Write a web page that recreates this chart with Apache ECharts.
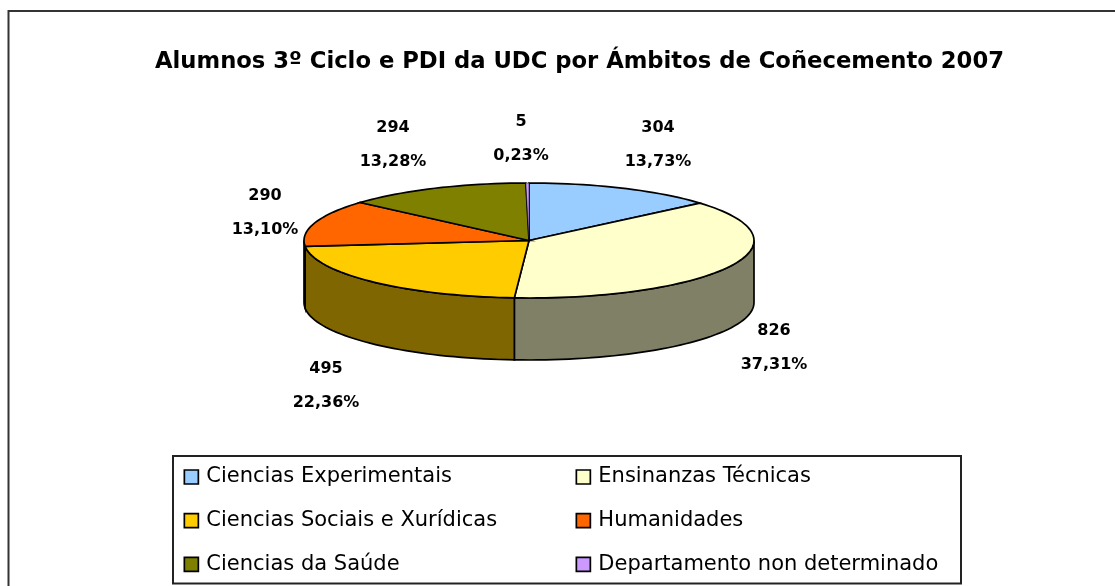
<!DOCTYPE html>
<html><head><meta charset="utf-8">
<style>html,body{margin:0;padding:0;background:#fff}#c{width:1115px;height:586px}</style>
<script src="https://cdn.jsdelivr.net/npm/echarts@6/dist/echarts.min.js"></script>
</head><body><div id="c"></div>
<script>
const categories = ['Ciencias Experimentais','Ensinanzas Técnicas','Ciencias Sociais e Xurídicas','Humanidades','Ciencias da Saúde','Departamento non determinado'];
const values = [304,826,495,290,294,5];
const colors = ['#99CCFF','#FFFFCC','#FFCC00','#FF6600','#808000','#CC99FF'];
const wallColors = ['#4C667F','#808066','#7F6600','#803300','#404000','#664C7F'];
const labelCenters = [[658,128],[774,331],[326,369],[265,196],[393,128],[521,122]];
const titleText = 'Alumnos 3º Ciclo e PDI da UDC por Ámbitos de Coñecemento 2007';

const PIE = {cx:529, cy:240.5, rx:225, ry:57.5, depth:62};
const total = values.reduce((a,b)=>a+b,0);
const pt = (deg,dy=0)=>{const r=deg*Math.PI/180;return [PIE.cx+PIE.rx*Math.sin(r),PIE.cy-PIE.ry*Math.cos(r)+dy];};
function arc(a0,a1,dy=0){const n=Math.max(2,Math.ceil((a1-a0)/2));const out=[];for(let i=0;i<=n;i++)out.push(pt(a0+(a1-a0)*i/n,dy));return out;}
const fmtPct=v=>(v/total*100).toFixed(2).replace('.',',')+'%';
const LINE={stroke:'#000',lineWidth:1.7,lineJoin:'miter'};

function sliceSeries(i){
  const start=values.slice(0,i).reduce((a,b)=>a+b,0)/total*360;
  const end=start+values[i]/total*360;
  const narrow=(end-start)<2;
  return {
    type:'custom',name:categories[i],coordinateSystem:'none',silent:true,
    itemStyle:{color:colors[i]},data:[[values[i]]],z:2,
    renderItem(){
      const children=[];
      const w0=Math.max(start,90),w1=Math.min(end,270);
      if(w1>w0){
        const front=arc(w0,w1),back=arc(w0,w1,PIE.depth).reverse();
        children.push({type:'polygon',shape:{points:front.concat(back)},style:{fill:wallColors[i],...LINE}});
      }
      const top=[[PIE.cx,PIE.cy]].concat(arc(start,end));
      children.push({type:'polygon',shape:{points:top},style:{fill:colors[i],...LINE,lineWidth:narrow?0.5:LINE.lineWidth}});
      const [lx,ly]=labelCenters[i];
      children.push({type:'text',x:lx,y:ly,style:{text:String(values[i]),font:'bold 16px "DejaVu Sans"',fill:'#000',align:'center',verticalAlign:'middle'}});
      children.push({type:'text',x:lx,y:ly+34,style:{text:fmtPct(values[i]),font:'bold 16px "DejaVu Sans"',fill:'#000',align:'center',verticalAlign:'middle'}});
      return {type:'group',children};
    }
  };
}
const legendBase={orient:'vertical',icon:'rect',itemWidth:14,itemHeight:14,itemGap:22.7,selectedMode:false,padding:0,
  textStyle:{fontFamily:'DejaVu Sans',fontSize:21,lineHeight:20,color:'#000',padding:[0,0,0,3]},
  itemStyle:{borderColor:'#000',borderWidth:1.7}};
const chart=echarts.init(document.getElementById('c'),null,{renderer:'canvas'});
chart.setOption({
  animation:false,backgroundColor:'#fff',
  title:{text:titleText,left:155,top:51,padding:0,textStyle:{fontFamily:'DejaVu Sans',fontWeight:'bold',fontSize:22.7,color:'#000'}},
  legend:[
    {...legendBase,left:183.5,top:466.5,data:categories.filter((_,i)=>i%2===0)},
    {...legendBase,left:575.5,top:466.5,data:categories.filter((_,i)=>i%2===1)}
  ],
  graphic:[
    {type:'polyline',z:-1,shape:{points:[[8.5,586],[8.5,11],[1115,11]]},style:{fill:'none',stroke:'#333',lineWidth:2}},
    {type:'rect',z:-1,shape:{x:173,y:456,width:788,height:127.5},style:{fill:'#fff',stroke:'#222',lineWidth:2}}
  ],
  series:values.map((_,i)=>sliceSeries(i))
});
</script></body></html>
